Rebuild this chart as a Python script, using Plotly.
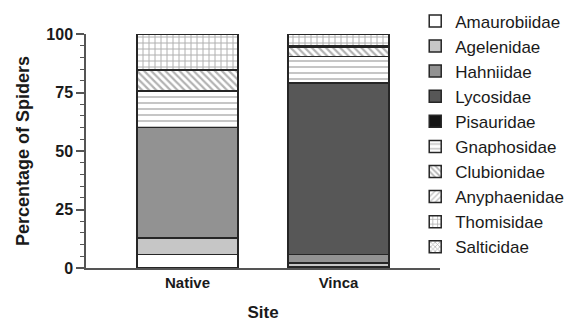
import plotly.graph_objects as go

sites = ["Native", "Vinca"]
families = ["Amaurobiidae", "Agelenidae", "Hahniidae", "Lycosidae", "Pisauridae",
            "Gnaphosidae", "Clubionidae", "Anyphaenidae", "Thomisidae", "Salticidae"]

# percentage of spiders per family, [Native, Vinca]
amaurobiidae = [5.7, 0.4]
agelenidae = [7.1, 1.8]
hahniidae = [47.2, 3.5]
lycosidae = [0.0, 73.3]
pisauridae = [0.0, 0.3]
gnaphosidae = [15.7, 11.0]
clubionidae = [8.6, 4.2]
anyphaenidae = [0.4, 0.4]
thomisidae = [15.0, 4.9]
salticidae = [0.3, 0.2]

series = [amaurobiidae, agelenidae, hahniidae, lycosidae, pisauridae,
          gnaphosidae, clubionidae, anyphaenidae, thomisidae, salticidae]

y_ticks = [0, 25, 50, 75, 100]

styles = [
    dict(color="#ffffff"),
    dict(color="#c6c6c6"),
    dict(color="#929292"),
    dict(color="#575757"),
    dict(color="#141414"),
    dict(color="#ffffff", pattern=dict(shape="-", fgcolor="#808080", bgcolor="#ffffff", size=6, solidity=0.3)),
    dict(color="#ffffff", pattern=dict(shape="\\", fgcolor="#666666", bgcolor="#ffffff", size=5, solidity=0.45)),
    dict(color="#ffffff", pattern=dict(shape="/", fgcolor="#888888", bgcolor="#ffffff", size=5, solidity=0.35)),
    dict(color="#ffffff", pattern=dict(shape="+", fgcolor="#5e5e5e", bgcolor="#ffffff", size=6, solidity=0.3)),
    dict(color="#ffffff", pattern=dict(shape="x", fgcolor="#777777", bgcolor="#ffffff", size=4, solidity=0.45)),
]

fig = go.Figure()
for name, vals, st in zip(families, series, styles):
    marker = dict(line=dict(color="#262626", width=1.5), **st)
    fig.add_trace(go.Bar(x=sites, y=vals, name=name, marker=marker, width=0.67))

font_family = "Arial, Liberation Sans, sans-serif"
fig.update_layout(
    width=583, height=322,
    barmode="stack",
    plot_bgcolor="white", paper_bgcolor="white",
    margin=dict(l=86, r=143, t=34, b=54, autoexpand=False),
    font=dict(family=font_family, color="#1a1a1a"),
    showlegend=True,
    legend=dict(x=0.93, xanchor="left", y=1.131, yanchor="top", maxheight=320,
                traceorder="normal",
                font=dict(size=17, color="#1a1a1a"),
                bgcolor="rgba(0,0,0,0)"),
    xaxis=dict(range=[-0.672, 1.672], showline=True, linecolor="#555555", linewidth=1.5,
               ticks="", tickfont=dict(size=15, weight="bold"),
               title=dict(text="Site", font=dict(size=17, weight="bold"), standoff=16),
               showgrid=False, zeroline=False),
    yaxis=dict(range=[0, 100], tickvals=y_ticks, showline=True, linecolor="#555555",
               linewidth=1.5, ticks="outside", ticklen=8, tickwidth=1.5, tickcolor="#555555",
               tickfont=dict(size=16, weight="bold"),
               minor=dict(dtick=5, ticks="outside", ticklen=4, tickcolor="#555555", tickwidth=1),
               title=dict(text="Percentage of Spiders", font=dict(size=18, weight="bold"), standoff=12),
               showgrid=False, zeroline=False),
)

fig.write_html("out.html")
